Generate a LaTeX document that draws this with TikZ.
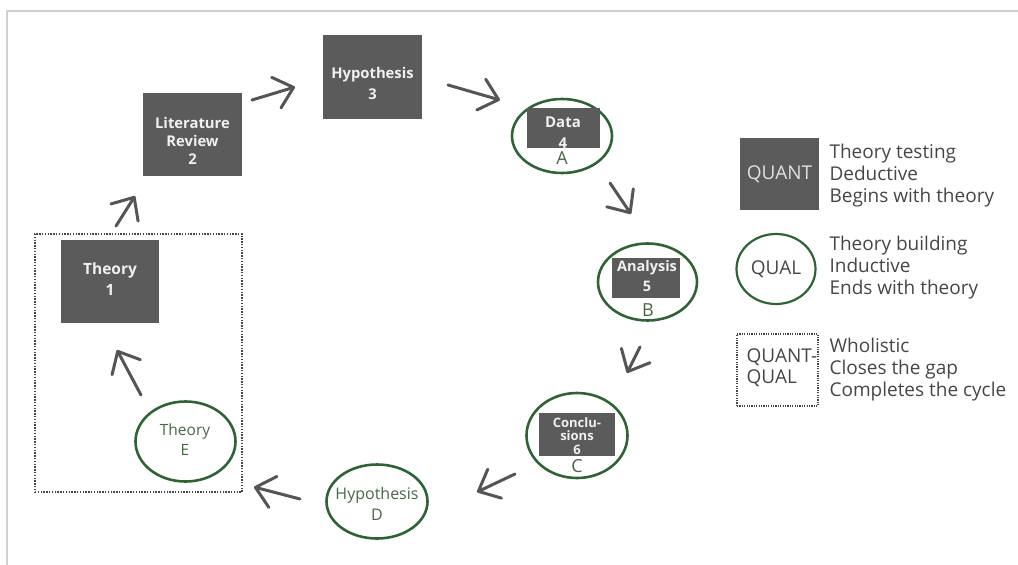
\documentclass[tikz,border=0pt]{standalone}
\usepackage{fontspec}
\setmainfont{Open Sans}
\usetikzlibrary{arrows.meta,shapes.geometric}
\definecolor{boxgray}{RGB}{91,91,91}
\definecolor{qualgreen}{RGB}{47,99,52}
\definecolor{qualtext}{RGB}{70,104,66}
\definecolor{arrowgray}{RGB}{85,85,85}
\definecolor{legendtext}{RGB}{70,70,70}
\definecolor{framegray}{RGB}{208,208,208}
\begin{document}
\begin{tikzpicture}[x=1pt,y=-1pt,
  quantbox/.style={fill=boxgray,draw=none,inner sep=0pt,minimum width=98pt,minimum height=83pt},
  quanttext/.style={text=white!94!black,font=\bfseries\fontsize{15}{19}\selectfont,align=center},
  qualring/.style={ellipse,draw=qualgreen,line width=2.6pt,inner sep=0pt},
  innerbox/.style={fill=boxgray,draw=none,inner sep=0pt},
  qualletter/.style={text=qualtext,font=\fontsize{18}{18}\selectfont},
  qualword/.style={text=qualtext,font=\fontsize{16}{21}\selectfont,align=center},
  mixbox/.style={draw=legendtext,line width=1.4pt,dash pattern=on 1.4pt off 1.4pt,inner sep=0pt},
  flow/.style={draw=arrowgray,line width=3pt,line cap=round,
    -{Straight Barb[length=18pt,width=32pt,round]}},
  legendword/.style={text=legendtext,font=\fontsize{19}{22}\selectfont,align=left,anchor=west},
]
\useasboundingbox (0,0) rectangle (1018,565);
% page frame
\draw[framegray,line width=1.5pt] (7,565) -- (7,11) -- (1018,11);

% dotted frame round the closing pair
\node[mixbox,minimum width=207pt,minimum height=258pt] (mix) at (138.5,363) {};

% QUANT steps
\node[quantbox] (t1) at (110,281.5) {};
\node[quanttext,font=\bfseries\fontsize{15.5}{21}\selectfont] at (110,279.5) {Theory\\1};
\node[quantbox,minimum width=99pt] (lr) at (192.5,134.5) {};
\node[quanttext,font=\bfseries\fontsize{14.8}{18}\selectfont] at (192.5,141) {Literature\\Review\\2};
\node[quantbox,minimum width=99pt,minimum height=84pt] (h3) at (372.5,77) {};
\node[quanttext,font=\bfseries\fontsize{14.8}{21}\selectfont] at (372.5,83.5) {Hypothesis\\3};

% QUAL rings holding QUANT steps
\node[qualring,minimum width=100pt,minimum height=74pt] (d4) at (562,136) {};
\node[innerbox,minimum width=73pt,minimum height=40pt] (d4box) at (563,128) {};
\node[quanttext,font=\bfseries\fontsize{15}{21}\selectfont] at (563,133) {Data\\4};
\node[qualletter] at (562,158) {A};

\node[qualring,minimum width=99pt,minimum height=77pt] (a5) at (647.5,282) {};
\node[innerbox,minimum width=68pt,minimum height=40pt] (a5box) at (646,278) {};
\node[quanttext,font=\bfseries\fontsize{14.5}{20}\selectfont] at (647,276) {Analysis\\5};
\node[qualletter] at (648,310) {B};

\node[qualring,minimum width=101pt,minimum height=85pt] (c6) at (577,435.5) {};
\node[innerbox,minimum width=76pt,minimum height=43pt] (c6box) at (577,434.5) {};
\node[quanttext,font=\bfseries\fontsize{13}{13.5}\selectfont] at (577,436) {Conclu-\\sions\\6};
\node[qualletter] at (577,466) {C};

% QUAL steps
\node[qualring,minimum width=101pt,minimum height=74pt] (hd) at (377,501.5) {};
\node[qualword] at (377,503.5) {Hypothesis\\D};
\node[qualring,minimum width=100pt,minimum height=80pt] (te) at (185.5,441.5) {};
\node[qualword,font=\fontsize{15.5}{20}\selectfont] at (185,439.5) {Theory\\E};

% arrow ends
\coordinate (e1s) at (141,395); \coordinate (e1t) at (117,350);
\coordinate (e2s) at (116,226); \coordinate (e2t) at (135,196);
\coordinate (e3s) at (252,100); \coordinate (e3t) at (295,87);
\coordinate (e4s) at (448,85);  \coordinate (e4t) at (500,100);
\coordinate (e5s) at (610,183); \coordinate (e5t) at (631,214);
\coordinate (e6s) at (640,347); \coordinate (e6t) at (627,373);
\coordinate (e7s) at (515,474); \coordinate (e7t) at (477,492);
\coordinate (e8s) at (300,499); \coordinate (e8t) at (254,487);
\foreach \i in {1,...,8} \draw[flow] (e\i s) -- (e\i t);

% legend
\node[quantbox,minimum width=79pt,minimum height=72pt] (lq) at (779.5,174) {};
\node[text=white!88!black,font=\fontsize{19}{19}\selectfont] at (779.5,174) {QUANT};
\node[legendword] at (826,176) {Theory testing\\Deductive\\Begins with theory};

\node[qualring,line width=2.2pt,minimum width=79pt,minimum height=70pt] (lql) at (776,269) {};
\node[text=legendtext,font=\fontsize{19}{19}\selectfont] at (776,269) {QUAL};
\node[legendword] at (826,268) {Theory building\\Inductive\\Ends with theory};

\node[mixbox,line width=1.2pt,dash pattern=on 1.2pt off 1.2pt,minimum width=81pt,minimum height=72pt] (lm) at (777.5,370) {};
\node[legendword,font=\fontsize{19}{21}\selectfont] at (743,367.5) {QUANT-\\QUAL};
\node[legendword] at (826,370) {Wholistic\\Closes the gap\\Completes the cycle};
\end{tikzpicture}
\end{document}
